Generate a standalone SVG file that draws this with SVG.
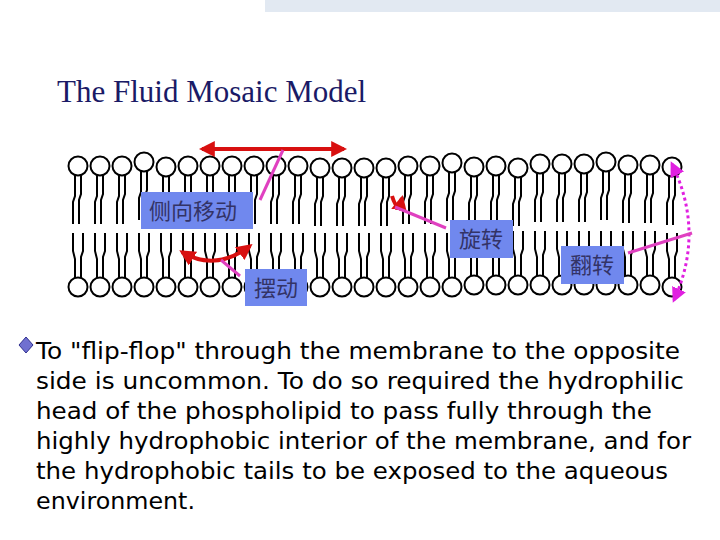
<svg xmlns="http://www.w3.org/2000/svg" xmlns:xlink="http://www.w3.org/1999/xlink" width="720" height="540" viewBox="0 0 720 540">
<style>
.lbl{fill:#7088ee}
.lt{font-family:"Noto Sans CJK SC",sans-serif;font-size:22px;fill:#333366}
.body{font-family:"DejaVu Sans",sans-serif;font-size:22.5px;fill:#000}
.pk{stroke:#e040c0;stroke-width:3;fill:none}
.rd{stroke:#d81010;stroke-width:4;fill:none}
</style>
<defs>
<g id="lt" fill="none" stroke="#000" stroke-width="2">
<circle cx="0" cy="0" r="9.5"/>
<path d="M-3,9 L-3,30 L-5,36 L-5,58 M3,9 L3,28 L1,34 L1,58"/>
</g>
<g id="lb" fill="none" stroke="#000" stroke-width="2">
<circle cx="0" cy="0" r="9.5"/>
<path d="M-3,-9 L-3,-28 L-5,-36 L-5,-54 M3,-9 L3,-30 L5,-36 L5,-54"/>
</g>
<marker id="ar" viewBox="0 0 10 10" refX="8" refY="5" markerWidth="4" markerHeight="4" orient="auto-start-reverse"><path d="M0,0 L10,5 L0,10 z" fill="#d81010"/></marker>
<marker id="am" viewBox="0 0 10 10" refX="8" refY="5" markerWidth="5" markerHeight="5" orient="auto-start-reverse"><path d="M0,0 L10,5 L0,10 z" fill="#e020e0"/></marker>
</defs>
<rect x="265" y="0" width="455" height="12" fill="#e2e9f2"/>
<text x="57" y="102" font-family="Liberation Serif,serif" font-size="31" fill="#1a1a66">The Fluid Mosaic Model</text>
<g id="membrane">
<g id="top">
<use xlink:href="#lt" x="78" y="166"/><use xlink:href="#lt" x="100" y="166"/><use xlink:href="#lt" x="122" y="166"/><use xlink:href="#lt" x="144" y="162"/><use xlink:href="#lt" x="166" y="167"/><use xlink:href="#lt" x="188" y="166"/><use xlink:href="#lt" x="210" y="166"/><use xlink:href="#lt" x="232" y="166"/><use xlink:href="#lt" x="254" y="166"/><use xlink:href="#lt" x="276" y="166"/><use xlink:href="#lt" x="298" y="166"/><use xlink:href="#lt" x="320" y="168"/><use xlink:href="#lt" x="342" y="168"/><use xlink:href="#lt" x="364" y="168"/><use xlink:href="#lt" x="386" y="168"/><use xlink:href="#lt" x="408" y="166"/><use xlink:href="#lt" x="430" y="166"/><use xlink:href="#lt" x="452" y="163"/><use xlink:href="#lt" x="474" y="167"/><use xlink:href="#lt" x="496" y="166"/><use xlink:href="#lt" x="518" y="168"/><use xlink:href="#lt" x="540" y="164"/><use xlink:href="#lt" x="562" y="164"/><use xlink:href="#lt" x="584" y="164"/><use xlink:href="#lt" x="606" y="162"/><use xlink:href="#lt" x="628" y="165"/><use xlink:href="#lt" x="650" y="165"/><use xlink:href="#lt" x="672" y="167"/>
</g>
<g id="bottom">
<use xlink:href="#lb" x="78" y="287"/><use xlink:href="#lb" x="100" y="287"/><use xlink:href="#lb" x="122" y="287"/><use xlink:href="#lb" x="144" y="287"/><use xlink:href="#lb" x="166" y="287"/><use xlink:href="#lb" x="188" y="287"/><use xlink:href="#lb" x="210" y="287"/><use xlink:href="#lb" x="232" y="287"/><use xlink:href="#lb" x="254" y="287"/><use xlink:href="#lb" x="276" y="287"/><use xlink:href="#lb" x="298" y="287"/><use xlink:href="#lb" x="320" y="287"/><use xlink:href="#lb" x="342" y="287"/><use xlink:href="#lb" x="364" y="287"/><use xlink:href="#lb" x="386" y="287"/><use xlink:href="#lb" x="408" y="287"/><use xlink:href="#lb" x="430" y="287"/><use xlink:href="#lb" x="452" y="287"/><use xlink:href="#lb" x="474" y="285"/><use xlink:href="#lb" x="496" y="285"/><use xlink:href="#lb" x="518" y="285"/><use xlink:href="#lb" x="540" y="285"/><use xlink:href="#lb" x="562" y="285"/><use xlink:href="#lb" x="584" y="285"/><use xlink:href="#lb" x="606" y="285"/><use xlink:href="#lb" x="628" y="285"/><use xlink:href="#lb" x="650" y="285"/><use xlink:href="#lb" x="672" y="287"/>
</g>
</g>
<g id="connectors">
<line x1="202" y1="149" x2="344" y2="149" class="rd" stroke-width="5" marker-start="url(#ar)" marker-end="url(#ar)"/>
<line x1="283" y1="150" x2="260" y2="200" class="pk"/>
<path d="M182,252 Q215,272 250,246" class="rd" marker-start="url(#ar)" marker-end="url(#ar)"/>
<line x1="221" y1="260" x2="240" y2="276" class="pk"/>
<path d="M392,196 Q398,215 402,198" class="rd" stroke="#b01010" marker-end="url(#ar)"/>
<line x1="395" y1="207" x2="446" y2="228" class="pk"/>
<path d="M672,164 Q705,232 674,300" stroke="#e020e0" stroke-width="3" stroke-dasharray="3,3" fill="none" marker-start="url(#am)" marker-end="url(#am)"/>
<line x1="628" y1="253" x2="692" y2="233" class="pk"/>
</g>
<g id="n1"><rect class="lbl" x="141" y="192" width="112" height="37"/><text class="lt" x="149" y="219">侧向移动</text></g>
<g id="n2"><rect class="lbl" x="245" y="269" width="62" height="37"/><text class="lt" x="254" y="296">摆动</text></g>
<g id="n3"><rect class="lbl" x="450" y="220" width="63" height="38"/><text class="lt" x="459" y="247">旋转</text></g>
<g id="n4"><rect class="lbl" x="561" y="246" width="63" height="38"/><text class="lt" x="570" y="273">翻转</text></g>
<path d="M26,337 L33,345 L26,353 L19,345 z" fill="#7070d0" stroke="#303090"/>
<g class="body">
<text x="36" y="359" textLength="644" lengthAdjust="spacingAndGlyphs">To "flip-flop" through the membrane to the opposite</text>
<text x="36" y="389" textLength="648" lengthAdjust="spacingAndGlyphs">side is uncommon. To do so required the hydrophilic</text>
<text x="36" y="419" textLength="616" lengthAdjust="spacingAndGlyphs">head of the phospholipid to pass fully through the</text>
<text x="36" y="449" textLength="655" lengthAdjust="spacingAndGlyphs">highly hydrophobic interior of the membrane, and for</text>
<text x="36" y="479" textLength="632" lengthAdjust="spacingAndGlyphs">the hydrophobic tails to be exposed to the aqueous</text>
<text x="36" y="509" textLength="159" lengthAdjust="spacingAndGlyphs">environment.</text>
</g>
</svg>
